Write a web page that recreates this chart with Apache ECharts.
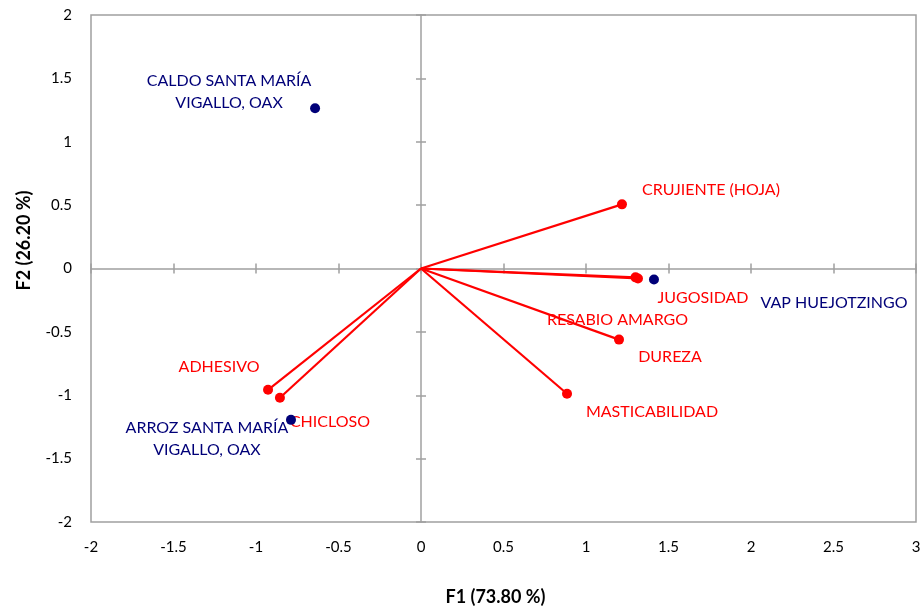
<!DOCTYPE html>
<html>
<head>
<meta charset="utf-8">
<script src="https://cdn.jsdelivr.net/npm/echarts@6/dist/echarts.min.js"></script>
<style>html,body{margin:0;padding:0;background:#fff}#c{width:921px;height:608px}</style>
</head>
<body>
<div id="c"></div>
<script>
// Observations (blue points)
const obsNames = ['CALDO SANTA MARÍA\nVIGALLO, OAX', 'VAP HUEJOTZINGO', 'ARROZ SANTA MARÍA\nVIGALLO, OAX'];
const obsF1 = [-0.642, 1.412, -0.788];
const obsF2 = [1.265, -0.087, -1.194];
// Variables (red vectors)
const varNames = ['CRUJIENTE (HOJA)', 'JUGOSIDAD', 'RESABIO AMARGO', 'DUREZA', 'MASTICABILIDAD', 'ADHESIVO', 'CHICLOSO'];
const varF1 = [1.218, 1.315, 1.300, 1.200, 0.885, -0.927, -0.855];
const varF2 = [0.506, -0.079, -0.070, -0.561, -0.988, -0.957, -1.020];
// Axis ticks
const axisX = {min: -2, max: 3, interval: 0.5};
const axisY = {min: -2, max: 2, interval: 0.5};

// label offsets (pixels, relative to marker)
const obsOffsets = [[-86, -16], [180, 23], [-84, 19]];
const varOffsets = [[89, -15], [65, 19], [-18, 42], [51, 17], [85, 18], [-49, -23], [50, 24]];

const FONT = 'Lato';
const NAVY = '#000078';
const RED = '#ff0000';
const GRAY = '#a0a0a0';

const chart = echarts.init(document.getElementById('c'), null, {renderer: 'canvas'});

function xAx(extra) {
  return Object.assign({type: 'value', min: axisX.min, max: axisX.max, interval: axisX.interval,
    splitLine: {show: false}, gridIndex: 0}, extra);
}
function yAx(extra) {
  return Object.assign({type: 'value', min: axisY.min, max: axisY.max, interval: axisY.interval,
    splitLine: {show: false}, gridIndex: 0}, extra);
}

const series = [];
varNames.forEach((n, i) => {
  series.push({
    type: 'line', xAxisIndex: 0, yAxisIndex: 0, silent: true,
    data: [[0, 0], [varF1[i], varF2[i]]], showSymbol: false, symbol: 'none',
    lineStyle: {color: RED, width: 2.2}, z: 3, animation: false
  });
});
series.push({
  type: 'scatter', xAxisIndex: 0, yAxisIndex: 0, symbolSize: 10, z: 4,
  itemStyle: {color: RED, opacity: 1},
  data: varNames.map((n, i) => ({
    name: n, value: [varF1[i], varF2[i]],
    label: {show: true, position: 'inside', offset: varOffsets[i], formatter: n,
      color: RED, fontFamily: FONT, fontSize: 16, lineHeight: 22}
  })),
  animation: false
});
series.push({
  type: 'scatter', xAxisIndex: 0, yAxisIndex: 0, symbolSize: 10, z: 5,
  itemStyle: {color: NAVY, opacity: 1},
  data: obsNames.map((n, i) => ({
    name: n, value: [obsF1[i], obsF2[i]],
    label: {show: true, position: 'inside', offset: obsOffsets[i], formatter: n,
      color: NAVY, fontFamily: FONT, fontSize: 16, lineHeight: 22, align: 'center'}
  })),
  animation: false
});

chart.setOption({
  animation: false,
  grid: {left: 91, right: 5, top: 15, bottom: 86, show: true, borderColor: GRAY, borderWidth: 1.5,
    containLabel: false, outerBoundsMode: 'none'},
  xAxis: [
    xAx({position: 'bottom', axisLine: {show: false, onZero: false}, axisTick: {show: false},
      axisLabel: {color: '#000', fontFamily: FONT, fontSize: 15, margin: 18},
      name: 'F1 (73.80 %)', nameLocation: 'middle', nameGap: 66,
      nameTextStyle: {color: '#000', fontFamily: FONT, fontSize: 18, fontWeight: 'bold', padding: [0, 16, 0, 0]}}),
    xAx({axisLine: {show: true, onZero: true, onZeroAxisIndex: 0, lineStyle: {color: GRAY, width: 1.5}},
      axisTick: {show: true, inside: false, length: 5, lineStyle: {color: GRAY, width: 1.5}},
      axisLabel: {show: false}}),
    xAx({axisLine: {show: false, onZero: true, onZeroAxisIndex: 0},
      axisTick: {show: true, inside: true, length: 5, lineStyle: {color: GRAY, width: 1.5}},
      axisLabel: {show: false}})
  ],
  yAxis: [
    yAx({position: 'left', axisLine: {show: false, onZero: false}, axisTick: {show: false},
      axisLabel: {color: '#000', fontFamily: FONT, fontSize: 15, margin: 19},
      name: 'F2 (26.20 %)', nameLocation: 'middle', nameGap: 58, nameRotate: 90,
      nameTextStyle: {color: '#000', fontFamily: FONT, fontSize: 18, fontWeight: 'bold', padding: [0, 0, 0, 56]}}),
    yAx({axisLine: {show: true, onZero: true, onZeroAxisIndex: 0, lineStyle: {color: GRAY, width: 1.5}},
      axisTick: {show: true, inside: false, length: 5, lineStyle: {color: GRAY, width: 1.5}},
      axisLabel: {show: false}}),
    yAx({axisLine: {show: false, onZero: true, onZeroAxisIndex: 0},
      axisTick: {show: true, inside: true, length: 5, lineStyle: {color: GRAY, width: 1.5}},
      axisLabel: {show: false}})
  ],
  series: series
});
</script>
</body>
</html>
